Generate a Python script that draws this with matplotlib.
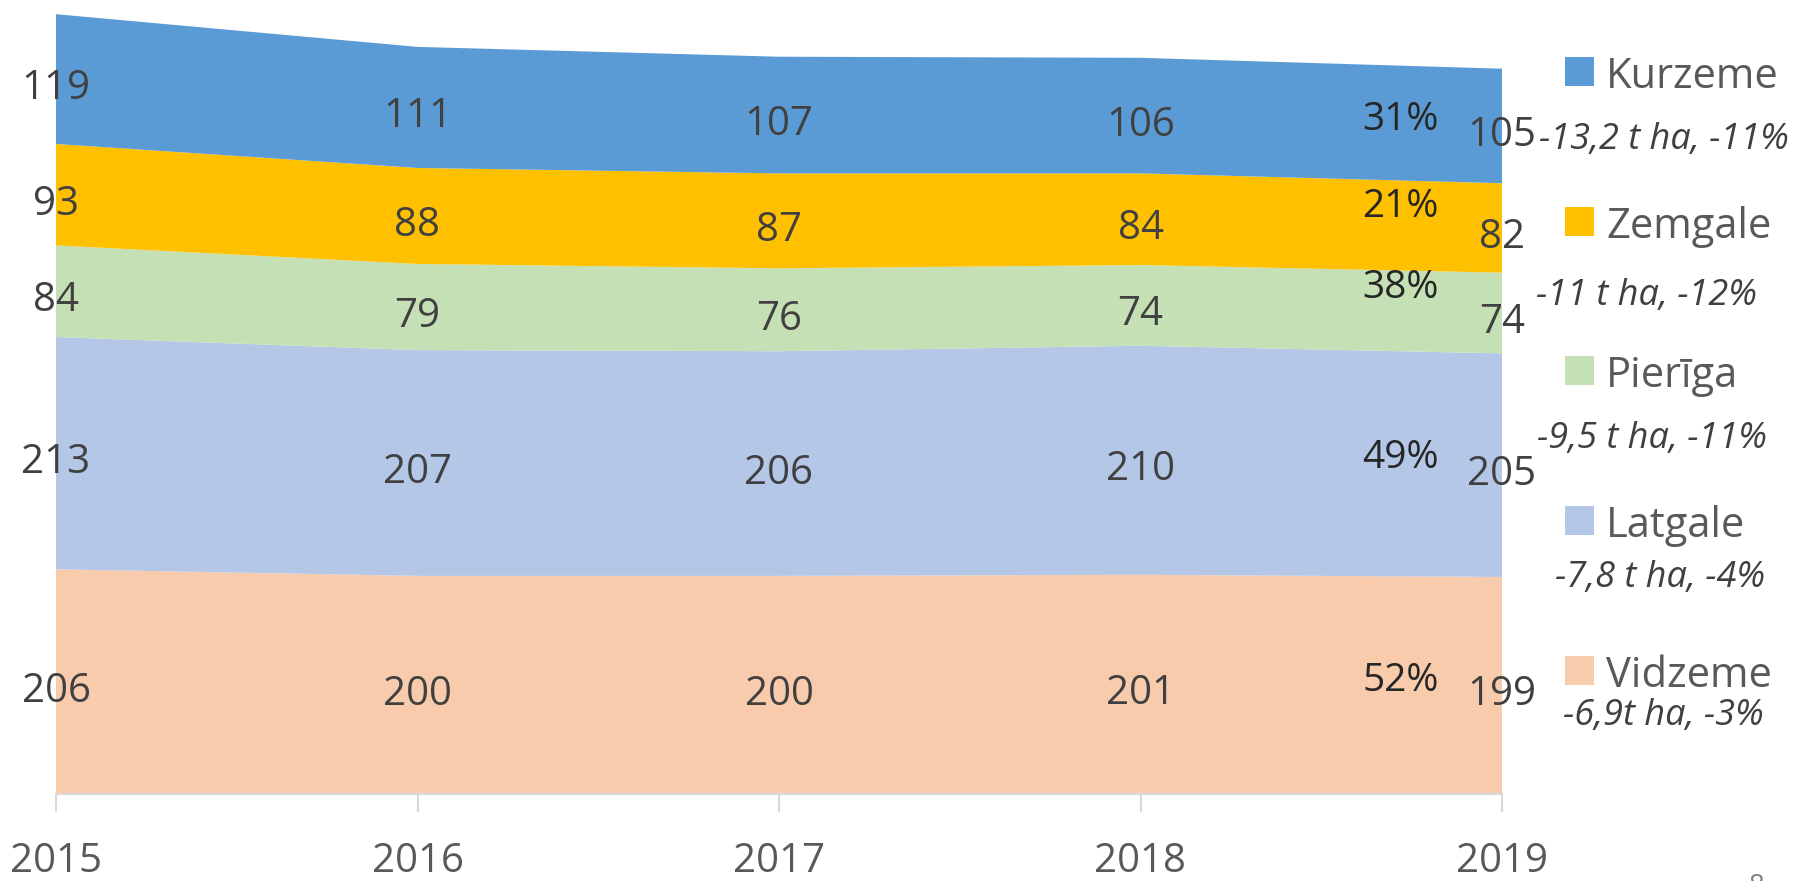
import numpy as np
import matplotlib.pyplot as plt
from matplotlib.patches import Rectangle

plt.rcParams['font.family'] = ['Open Sans', 'DejaVu Sans']

# data
years = [2015, 2016, 2017, 2018, 2019]
regions = ['Vidzeme', 'Latgale', 'Pierīga', 'Zemgale', 'Kurzeme']
vidzeme = [206, 200, 200, 201, 199]
latgale = [213, 207, 206, 210, 205]
pieriga = [84, 79, 76, 74, 74]
zemgale = [93, 88, 87, 84, 82]
kurzeme = [119, 111, 107, 106, 105]
shares = ['52%', '49%', '38%', '21%', '31%']
notes = ['-6,9t ha, -3%', '-7,8 t ha, -4%', '-9,5 t ha, -11%',
         '-11 t ha, -12%', '-13,2 t ha, -11%']

colors = ['#F8CBAD', '#B4C7E7', '#C5E0B4', '#FFC000', '#5B9BD5']
series = np.array([vidzeme, latgale, pieriga, zemgale, kurzeme])

W, H = 1795, 881
fig = plt.figure(figsize=(W / 100, H / 100), dpi=100)
ax = fig.add_axes([56 / W, 87 / H, (1502 - 56) / W, 1 - 87 / H])

ax.stackplot(years, series, colors=colors, linewidth=0)
ax.set_xlim(2015, 2019)
ax.set_ylim(0, 728)

# value labels centred in each band (nudged down a little, like the original)
tops = series.cumsum(axis=0)
centers = tops - series / 2
for i in range(len(regions)):
    for j, yr in enumerate(years):
        ax.annotate(str(series[i, j]), (yr, centers[i, j]), xytext=(0, -7),
                    textcoords='offset points', ha='center', va='center',
                    fontsize=29, color='#404040')

# share labels near the right edge
x_share = 2018.72
share_lift = [4, 5, 21, 17, 3]
for i, s in enumerate(shares):
    yc = np.interp(x_share, years, centers[i])
    ax.text(x_share, yc + share_lift[i], s, ha='center', va='center',
            fontsize=28, color='#262626')

# axes styling
for side in ['top', 'right', 'left']:
    ax.spines[side].set_visible(False)
ax.spines['bottom'].set_color('#D9D9D9')
ax.spines['bottom'].set_linewidth(1.5)
ax.set_yticks([])
ax.set_xticks(years)
ax.tick_params(axis='x', length=13, width=1.5, color='#D9D9D9', pad=21,
               labelsize=29, labelcolor='#595959')

# legend drawn by hand (top to bottom)
row_y = [72, 222, 371, 521, 671]
text_y = [77, 227, 376, 526, 676]
note_y = [140, 296, 439, 578, 716]
note_x = [1664, 1646, 1652, 1660, 1663]
for k, i in enumerate(range(len(regions) - 1, -1, -1)):
    fig.add_artist(Rectangle((1565 / W, 1 - (row_y[k] + 14) / H), 29 / W, 29 / H,
                             transform=fig.transFigure, color=colors[i], lw=0))
    fig.text(1606 / W, 1 - text_y[k] / H, regions[i], ha='left', va='center',
             fontsize=30, color='#595959')
    fig.text(note_x[k] / W, 1 - note_y[k] / H, notes[i], ha='center', va='center',
             fontsize=26, style='italic', color='#404040')

fig.text(1757 / W, 1 - 873 / H, '8', ha='center', va='top', fontsize=20, color='#808080')

fig.savefig('out.png', dpi=100)
